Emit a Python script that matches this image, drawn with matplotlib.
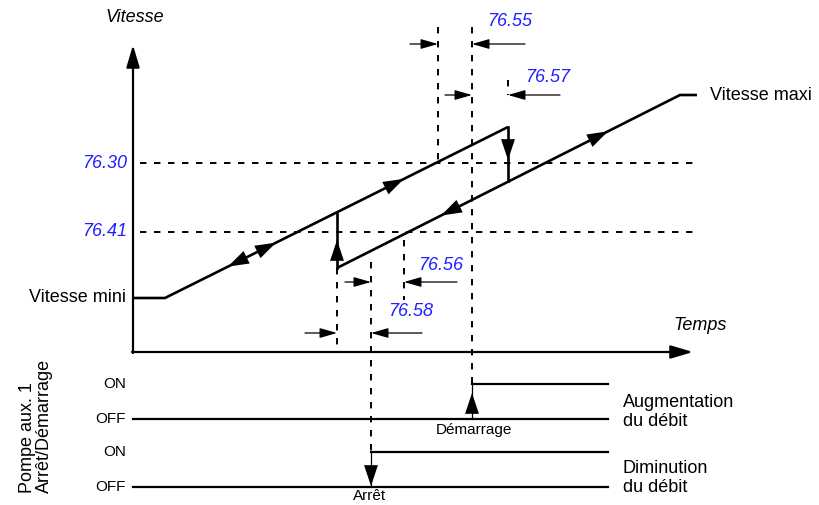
import matplotlib.pyplot as plt

plt.rcParams['font.family'] = ['Liberation Sans', 'DejaVu Sans']

# schematic coordinates (pixel-like units, y grows downward)
# levels on the speed axis
lvl_min = 298
lvl_max = 95
lvl_7630 = 163
lvl_7641 = 232

# rising branch (start pump at 76.30 crossing + delay)
rise_t = [133, 165, 508]
rise_v = [lvl_min, lvl_min, 127]
# lower branch after the auxiliary pump starts
fall_t = [337, 680, 697]
fall_v = [268, lvl_max, lvl_max]
# jumps
jump_up_t = 337
jump_up_v = [268, 213]
jump_dn_t = 508
jump_dn_v = [127, 181]

# threshold labels
thresholds = [lvl_7630, lvl_7641]
threshold_labels = ['76.30', '76.41']

# delay markers: (x of dashed line, y top, y bottom)
dash_x = [438, 472, 508, 337, 371, 404]
dash_top = [27, 27, 80, 268, 262, 240]
dash_bot = [163, 384, 95, 352, 452, 300]

# dimension arrows: (tail x, head x, y)
dim_tail = [410, 525, 445, 560, 305, 422, 345, 457]
dim_head = [438, 472, 472, 508, 337, 371, 371, 404]
dim_y = [44, 44, 95, 95, 333, 333, 282, 282]

delay_labels = ['76.55', '76.57', '76.56', '76.58']
delay_pos = [(487, 21), (525, 77), (418, 266), (388, 311)]

# pump on/off signal levels
on_lvls = [384, 452]
off_lvls = [419, 487]
start_t = 472
stop_t = 371
sig_end = 608

blue = '#2020ff'
fig = plt.figure(figsize=(8.2, 5.05), dpi=100)
ax = fig.add_axes([0, 0, 1, 1])
ax.set_xlim(0, 820)
ax.set_ylim(505, 0)
ax.axis('off')

dash = (0, (3.3, 3.9))

# axes with arrows
ax.annotate('', xy=(133, 45), xytext=(133, 353),
            arrowprops=dict(arrowstyle='-|>,head_length=1.35,head_width=0.4',
                            color='k', lw=1.6, shrinkA=0, shrinkB=0))
ax.annotate('', xy=(693, 352), xytext=(132, 352),
            arrowprops=dict(arrowstyle='-|>,head_length=1.35,head_width=0.4',
                            color='k', lw=1.6, shrinkA=0, shrinkB=0))

# thresholds
for lv, lab in zip(thresholds, threshold_labels):
    ax.plot([140, 697], [lv, lv], color='k', lw=1.4, ls=dash)
    ax.text(127, lv, lab, color=blue, style='italic', fontsize=13,
            ha='right', va='center')

# speed branches
ax.plot(rise_t, rise_v, color='k', lw=1.9, solid_capstyle='butt')
ax.plot(fall_t, fall_v, color='k', lw=1.9, solid_capstyle='butt')
ax.plot([jump_up_t] * 2, jump_up_v, color='k', lw=1.9)
ax.plot([jump_dn_t] * 2, jump_dn_v, color='k', lw=1.9)

big = dict(arrowstyle='-|>,head_length=1.5,head_width=0.5',
           color='k', lw=0, shrinkA=0, shrinkB=0)


def head(tip, tail):
    ax.annotate('', xy=tip, xytext=tail, arrowprops=big)


def on_line(t, v, x, back):
    # arrowhead with its tip at x on the polyline segment t/v
    s = (v[1] - v[0]) / (t[1] - t[0])
    y = v[0] + s * (x - t[0])
    xb = x - back
    head((x, y), (xb, v[0] + s * (xb - t[0])))


on_line(rise_t[1:], rise_v[1:], 228, -20)
on_line(rise_t[1:], rise_v[1:], 276, 20)
on_line(rise_t[1:], rise_v[1:], 404, 20)
on_line(fall_t[:2], fall_v[:2], 441, -20)
on_line(fall_t[:2], fall_v[:2], 608, 20)
head((jump_up_t, 240), (jump_up_t, 260))
head((jump_dn_t, 160), (jump_dn_t, 140))

# dashed markers
for x, a, b in zip(dash_x, dash_top, dash_bot):
    ax.plot([x, x], [a, b], color='k', lw=1.4, ls=dash)

small = dict(arrowstyle='-|>,head_length=1.05,head_width=0.3',
             color='k', lw=0.9, shrinkA=0, shrinkB=0)
for t0, t1, y in zip(dim_tail, dim_head, dim_y):
    ax.annotate('', xy=(t1, y), xytext=(t0, y), arrowprops=small)

for lab, (x, y) in zip(delay_labels, delay_pos):
    ax.text(x, y, lab, color=blue, style='italic', fontsize=13,
            ha='left', va='center')

# axis labels
ax.text(135, 17, 'Vitesse', style='italic', fontsize=13, ha='center', va='center')
ax.text(700, 325, 'Temps', style='italic', fontsize=13, ha='center', va='center')
ax.text(126, 297, 'Vitesse mini', fontsize=13, ha='right', va='center')
ax.text(710, 95, 'Vitesse maxi', fontsize=13, ha='left', va='center')

# pump signals
for on, off in zip(on_lvls, off_lvls):
    ax.text(126, on, 'ON', fontsize=11, ha='right', va='center')
    ax.text(126, off, 'OFF', fontsize=11, ha='right', va='center')
    ax.plot([133, sig_end], [off, off], color='k', lw=1.6)

ax.plot([start_t, sig_end], [on_lvls[0]] * 2, color='k', lw=1.6)
ax.plot([start_t] * 2, [off_lvls[0], on_lvls[0]], color='k', lw=0.9)
head((start_t, 393), (start_t, 412))
ax.plot([stop_t, sig_end], [on_lvls[1]] * 2, color='k', lw=1.6)
ax.plot([stop_t] * 2, [on_lvls[1], off_lvls[1]], color='k', lw=0.9)
head((stop_t, 486), (stop_t, 466))

ax.text(474, 430, 'Démarrage', fontsize=11, ha='center', va='center')
ax.text(370, 496, 'Arrêt', fontsize=11, ha='center', va='center')
ax.text(623, 412, 'Augmentation\ndu débit', fontsize=13, ha='left',
        va='center', linespacing=1.15)
ax.text(623, 478, 'Diminution\ndu débit', fontsize=13, ha='left',
        va='center', linespacing=1.15)

ax.text(27, 493, 'Pompe aux. 1', fontsize=13, rotation=90,
        rotation_mode='anchor', ha='left', va='center')
ax.text(44, 493, 'Arrêt/Démarrage', fontsize=13, rotation=90,
        rotation_mode='anchor', ha='left', va='center')

fig.savefig('out.png', dpi=100)
